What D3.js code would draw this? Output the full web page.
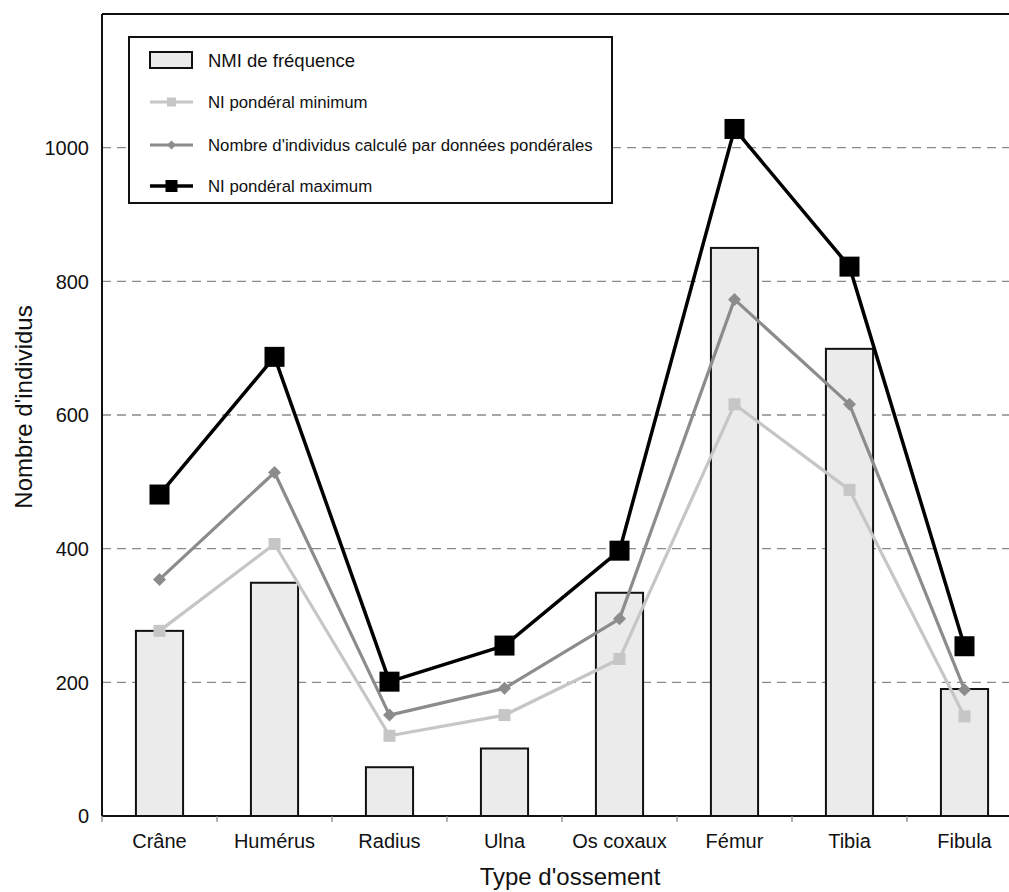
<!DOCTYPE html>
<html><head><meta charset="utf-8">
<script src="https://cdn.jsdelivr.net/npm/d3@7"></script>
<style>body{margin:0;background:#fff;overflow:hidden}svg{display:block;font-family:Arial,"Liberation Sans",sans-serif}</style>
</head><body>
<script>
const categories = ["Crâne","Humérus","Radius","Ulna","Os coxaux","Fémur","Tibia","Fibula"];
const nmiFrequence = [277,349,73,101,334,850,699,190];
const niMinimum = [277,407,120,151,235,616,488,149];
const niCalcule = [354,514,151,191,295,773,616,189];
const niMaximum = [481,687,201,255,397,1028,822,254];
const yTicks = [0,200,400,600,800,1000];
const yMax = 1200;
const legendLabels = ["NMI de fréquence","NI pondéral minimum","Nombre d'individus calculé par données pondérales","NI pondéral maximum"];

const W = 1009, H = 892;
const m = {left:102, top:14, right:-13, bottom:76};
const iw = W - m.left - m.right, ih = H - m.top - m.bottom;
const svg = d3.select("body").append("svg").attr("width",W).attr("height",H);
const g = svg.append("g").attr("transform",`translate(${m.left},${m.top})`);

const x = d3.scaleBand().domain(categories).range([0,iw]).paddingInner(0.59).paddingOuter(0.295);
const xb = d3.scaleBand().domain(categories).range([0,iw]);
const y = d3.scaleLinear().domain([0,yMax]).range([ih,0]);

// grid
g.selectAll(".grid").data(yTicks.filter(d=>d>0)).join("line")
  .attr("x1",0).attr("x2",iw).attr("y1",d=>y(d)).attr("y2",d=>y(d))
  .attr("stroke","#8a8a8a").attr("stroke-width",1.3).attr("stroke-dasharray","9,6");

// bars
g.selectAll(".bar").data(nmiFrequence).join("rect")
  .attr("x",(d,i)=>x(categories[i])).attr("width",x.bandwidth())
  .attr("y",d=>y(d)).attr("height",d=>ih-y(d))
  .attr("fill","#ebebeb").attr("stroke","#111").attr("stroke-width",2);

const cx = i => xb(categories[i]) + xb.bandwidth()/2;
const line = d3.line().x((d,i)=>cx(i)).y(d=>y(d));

const series = [
  {data:niMinimum, color:"#c6c6c6", w:3.2, shape:"sq", size:12},
  {data:niCalcule, color:"#8c8c8c", w:3.2, shape:"dia", size:13},
  {data:niMaximum, color:"#000", w:3.5, shape:"sq", size:20}
];
function marker(sel, s, px, py){
  if(s.shape==="sq"){
    sel.append("rect").attr("x",px-s.size/2).attr("y",py-s.size/2).attr("width",s.size).attr("height",s.size).attr("fill",s.color);
  } else {
    const r = s.size/2;
    sel.append("path").attr("d",`M${px},${py-r}L${px+r},${py}L${px},${py+r}L${px-r},${py}Z`).attr("fill",s.color);
  }
}
series.forEach(s=>{
  g.append("path").datum(s.data).attr("d",line).attr("fill","none").attr("stroke",s.color).attr("stroke-width",s.w).attr("stroke-linejoin","round");
  s.data.forEach((d,i)=>marker(g, s, cx(i), y(d)));
});

// axes
g.append("line").attr("x1",0).attr("x2",0).attr("y1",0).attr("y2",ih).attr("stroke","#111").attr("stroke-width",2);
g.append("line").attr("x1",0).attr("x2",iw).attr("y1",0).attr("y2",0).attr("stroke","#111").attr("stroke-width",2.2);
g.append("line").attr("x1",0).attr("x2",iw).attr("y1",ih).attr("y2",ih).attr("stroke","#111").attr("stroke-width",2);
// x ticks at band boundaries
g.selectAll(".xt").data(categories).join("line")
  .attr("x1",d=>xb(d)).attr("x2",d=>xb(d)).attr("y1",ih).attr("y2",ih+6)
  .attr("stroke","#888").attr("stroke-width",1.3);
g.selectAll(".xl").data(categories).join("text")
  .attr("x",d=>xb(d)+xb.bandwidth()/2).attr("y",ih+32)
  .attr("text-anchor","middle").attr("font-size",20).attr("fill","#111").text(d=>d);
g.selectAll(".yl").data(yTicks).join("text")
  .attr("x",-13).attr("y",d=>y(d)).attr("dy","0.36em")
  .attr("text-anchor","end").attr("font-size",20).attr("fill","#111").text(d=>d);

// titles
svg.append("text").attr("x",570).attr("y",885).attr("text-anchor","middle").attr("font-size",24).attr("fill","#111").text("Type d'ossement");
svg.append("text").attr("transform","translate(32,407) rotate(-90)").attr("text-anchor","middle").attr("font-size",24).attr("fill","#111").text("Nombre d'individus");

// legend
const lg = svg.append("g");
lg.append("rect").attr("x",129).attr("y",37).attr("width",483).attr("height",166).attr("fill","#fff").attr("stroke","#111").attr("stroke-width",2);
const rowsY = [60,102,145,186];
lg.append("rect").attr("x",150).attr("y",52).attr("width",42).attr("height",16).attr("fill","#ebebeb").attr("stroke","#111").attr("stroke-width",2);
series.forEach((s,k)=>{
  const yy = rowsY[k+1];
  lg.append("line").attr("x1",150).attr("x2",193).attr("y1",yy).attr("y2",yy).attr("stroke",s.color).attr("stroke-width",s.w);
  marker(lg, {shape:s.shape,color:s.color,size:s.shape==="sq"?(k===2?12:9):9}, 171.5, yy);
});
legendLabels.forEach((t,k)=>{
  lg.append("text").attr("x",208).attr("y",rowsY[k]).attr("dy","0.36em")
    .attr("font-size",k===0?18.5:16.8).attr("fill","#111").text(t);
});
</script>
</body></html>
